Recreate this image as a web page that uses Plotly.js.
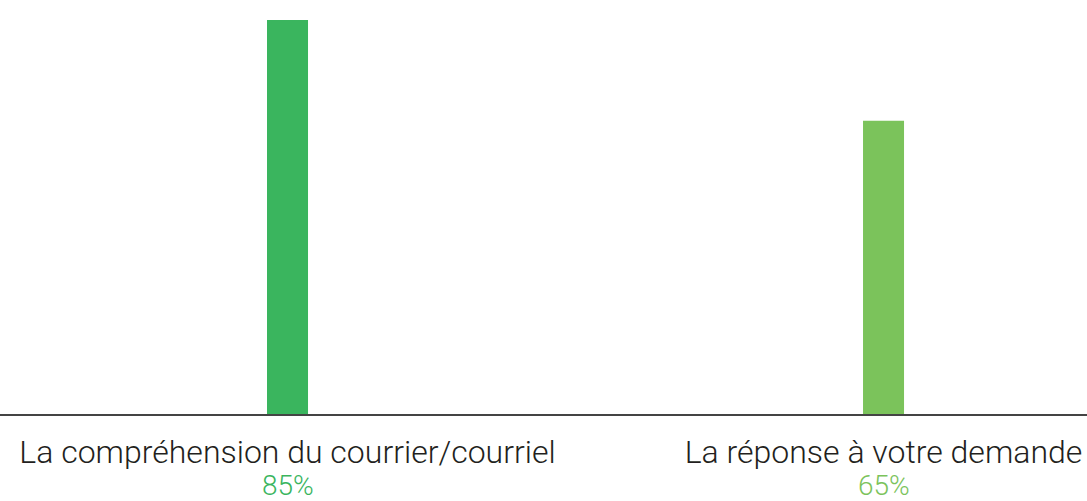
<!DOCTYPE html>
<html>
<head>
<meta charset="utf-8">
<script src="https://cdn.plot.ly/plotly-3.0.1.min.js"></script>
<style>html,body{margin:0;padding:0;background:#fff;}#chart{width:1087px;height:501px;}</style>
</head>
<body>
<div id="chart"></div>
<script>
const categories = ["La compréhension du courrier/courriel", "La réponse à votre demande"];
const values = [85, 65];
const valueLabels = ["85%", "65%"];
const barColors = ["#3ab55e", "#7bc35b"];

const data = [{
  type: 'bar',
  x: categories,
  y: values,
  marker: {color: barColors},
  width: 0.0688,
  hoverinfo: 'skip'
}];

const annotations = categories.map((c, i) => ({
  x: c, xref: 'x',
  y: -0.128, yref: 'paper',
  yanchor: 'top', xanchor: 'center',
  text: valueLabels[i],
  showarrow: false,
  font: {family: 'Roboto, sans-serif', size: 28, color: barColors[i], weight: 300}
}));

const layout = {
  width: 1087, height: 501,
  margin: {l: 0, r: 0, t: 0, b: 87, pad: 0},
  paper_bgcolor: '#ffffff', plot_bgcolor: '#ffffff',
  showlegend: false,
  font: {family: 'Roboto, sans-serif', color: '#231f20'},
  annotations: annotations,
  xaxis: {
    type: 'category',
    range: [-0.4824, 1.3414],
    showline: true, linecolor: '#444444', linewidth: 1.5,
    showgrid: false, zeroline: false, ticks: '',
    tickfont: {family: 'Roboto, sans-serif', size: 32, color: '#231f20', weight: 300},
    ticklabelstandoff: 9,
    ticklabeloverflow: 'allow',
    automargin: false, fixedrange: true
  },
  yaxis: {
    range: [6.79, 88.98],
    visible: false, showgrid: false, zeroline: false,
    fixedrange: true
  }
};

Plotly.newPlot('chart', data, layout, {displayModeBar: false, staticPlot: true});
</script>
</body>
</html>
